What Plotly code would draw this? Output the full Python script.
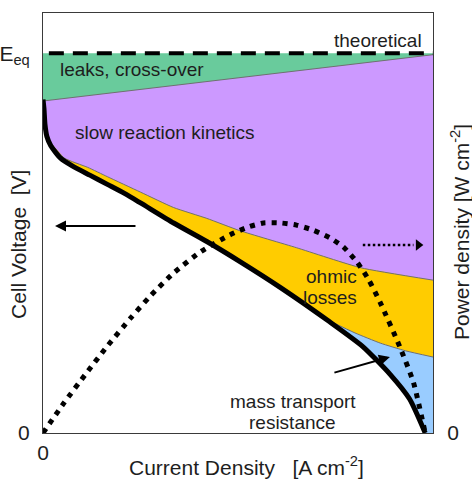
import plotly.graph_objects as go

# ---------------- data ----------------
E_EQ = 1.23  # theoretical / equilibrium voltage

# measured polarisation curve (cell voltage vs current density)
i_cell = [0.0, 0.005, 0.01, 0.02, 0.04, 0.09, 0.15, 0.24, 0.33, 0.42, 0.50,
          0.67, 0.84, 1.01, 1.22, 1.47, 1.64, 1.78, 1.88, 1.96]
v_cell = [1.08, 1.05, 1.00, 0.96, 0.93, 0.89, 0.865, 0.835, 0.805, 0.775, 0.745,
          0.68, 0.62, 0.555, 0.47, 0.36, 0.28, 0.19, 0.11, 0.0]

# leaks / cross-over boundary
i_leak = [0.0, 2.0]
v_leak = [1.075, 1.225]

# activation (slow reaction kinetics) boundary
i_kin = [0.0, 0.01, 0.04, 0.11, 0.23, 0.33, 0.50, 0.67, 0.84, 1.01, 1.30, 1.63, 2.0]
v_kin = [1.08, 1.00, 0.94, 0.89, 0.86, 0.83, 0.78, 0.73, 0.695, 0.655, 0.60, 0.535, 0.495]

# ohmic boundary (start of mass-transport losses)
i_ohm = [1.47, 1.60, 1.73, 1.86, 2.0]
v_ohm = [0.363, 0.324, 0.291, 0.266, 0.246]

# power density curve
i_pow = [0.0, 0.11, 0.22, 0.33, 0.45, 0.55, 0.67, 0.81, 0.96, 1.05, 1.13, 1.22,
         1.30, 1.385, 1.47, 1.54, 1.61, 1.67, 1.73, 1.83, 1.90, 1.96]
p_pow = [0.0, 0.073, 0.141, 0.207, 0.274, 0.326, 0.381, 0.432, 0.472, 0.49, 0.50, 0.50,
         0.495, 0.483, 0.465, 0.443, 0.407, 0.365, 0.31, 0.205, 0.12, 0.0]

x_ticks = [0]
x_ticklabels = ["0"]
y_ticks = [0, E_EQ]
y_ticklabels = ["0", "E<sub>eq</sub>"]
y2_ticks = [0]
y2_ticklabels = ["0"]

I_MAX = 2.0
V_MAX = 1.36
P_MAX = 1.0

# ---------------- styles ----------------
FONT = "Arial, Liberation Sans, sans-serif"
TXT = "#1e1e1e"
C_GREEN = "#69CB9C"
C_PURPLE = "#CC99FF"
C_YELLOW = "#FFCC00"
C_BLUE = "#99CCFF"
C_EDGE = "#707070"

fig = go.Figure()

# floor of all loss regions = the measured curve (plus the bottom-right corner)
floor_x = [I_MAX] + i_cell[::-1]
floor_y = [0.0] + v_cell[::-1]


def region(top_x, top_y, color):
    fig.add_trace(go.Scatter(
        x=list(top_x) + floor_x, y=list(top_y) + floor_y,
        mode="lines", fill="toself", fillcolor=color,
        line=dict(width=0), hoverinfo="skip", showlegend=False))


region([0.0, I_MAX], [E_EQ, E_EQ], C_GREEN)
region(i_leak, v_leak, C_PURPLE)
region(i_kin, v_kin, C_YELLOW)
# blue region: only the part of the floor beyond the ohmic line start
bx = i_ohm + [I_MAX] + [x for x in i_cell[::-1] if x >= i_ohm[0]]
by = v_ohm + [0.0] + [v for x, v in zip(i_cell[::-1], v_cell[::-1]) if x >= i_ohm[0]]
fig.add_trace(go.Scatter(x=bx, y=by, mode="lines", fill="toself", fillcolor=C_BLUE,
                         line=dict(width=0), hoverinfo="skip", showlegend=False))

# thin boundary lines
for xs, ys in [(i_leak, v_leak), (i_kin, v_kin), (i_ohm, v_ohm)]:
    fig.add_trace(go.Scatter(x=xs, y=ys, mode="lines",
                             line=dict(color=C_EDGE, width=1, shape="spline", smoothing=0.5),
                             hoverinfo="skip", showlegend=False))

# theoretical dashed line
fig.add_trace(go.Scatter(x=[0.03, I_MAX], y=[E_EQ, E_EQ], mode="lines",
                         line=dict(color="black", width=4, dash="15px,9px"),
                         showlegend=False))

# polarisation curve
fig.add_trace(go.Scatter(x=i_cell, y=v_cell, mode="lines",
                         line=dict(color="black", width=5, shape="spline", smoothing=0.6),
                         showlegend=False))

# power density curve (right axis)
fig.add_trace(go.Scatter(x=i_pow, y=p_pow, mode="lines", yaxis="y2",
                         line=dict(color="black", width=5, dash="5px,6px",
                                   shape="spline", smoothing=0.6),
                         showlegend=False))

# dotted arrow pointing to right axis
fig.add_trace(go.Scatter(x=[1.64, 1.90], y=[0.609, 0.609], mode="lines",
                         line=dict(color="black", width=2.5, dash="2.5px,2.5px"),
                         showlegend=False))
fig.add_trace(go.Scatter(x=[1.925], y=[0.609], mode="markers",
                         marker=dict(symbol="triangle-right", size=10, color="black"),
                         showlegend=False))

axis_common = dict(showgrid=False, zeroline=False, ticks="", automargin=False,
                   showline=True, linecolor="#3a3a3a", linewidth=1,
                   tickfont=dict(family=FONT, size=21, color=TXT))

fig.update_layout(
    width=472, height=482,
    margin=dict(l=43, r=39, t=13, b=49),
    paper_bgcolor="white", plot_bgcolor="white",
    xaxis=dict(range=[0, I_MAX], tickvals=x_ticks, ticktext=x_ticklabels,
               mirror=True, ticklabelstandoff=1, **axis_common),
    yaxis=dict(range=[0, V_MAX], tickvals=y_ticks, ticktext=y_ticklabels,
               mirror=True, ticklabelstandoff=8, **axis_common),
    yaxis2=dict(range=[0, P_MAX], overlaying="y", side="right",
                tickvals=y2_ticks, ticktext=y2_ticklabels,
                ticklabelstandoff=9, **axis_common),
    showlegend=False,
)


def txt(text, x, y, xanchor="center", size=19, angle=0):
    fig.add_annotation(text=text, x=x, y=y, xref="paper", yref="paper",
                       xanchor=xanchor, yanchor="middle", showarrow=False,
                       textangle=angle, font=dict(family=FONT, size=size, color=TXT))


def fx(px):
    return (px - 43) / 390


def fy(py):
    return (433 - py) / 420


txt("theoretical", fx(378), fy(40))
txt("leaks, cross-over", fx(58), fy(70), xanchor="left")
txt("slow reaction kinetics", fx(73), fy(132), xanchor="left")
txt("ohmic", fx(331), fy(276))
txt("losses", fx(330), fy(297))
txt("mass transport", fx(293), fy(401))
txt("resistance", fx(292), fy(422))
txt("Current Density&nbsp;&nbsp;&nbsp;[A cm<sup>-2</sup>]", fx(246), fy(466), size=21)
txt("Cell Voltage&nbsp;&nbsp;[V]", fx(18), fy(245), size=21, angle=-90)
txt("Power density [W cm<sup>-2</sup>]", fx(460), fy(232), size=21, angle=-90)

# solid arrows
fig.add_annotation(x=0.0615, y=0.670, xref="x", yref="y", ax=82, ay=0,
                   showarrow=True, arrowhead=2, arrowsize=1.1, arrowwidth=2,
                   arrowcolor="black", text="")
fig.add_annotation(x=1.779, y=0.246, xref="x", yref="y", ax=-57, ay=16,
                   showarrow=True, arrowhead=2, arrowsize=1.1, arrowwidth=2,
                   arrowcolor="black", text="")

fig.write_html("out.html")
